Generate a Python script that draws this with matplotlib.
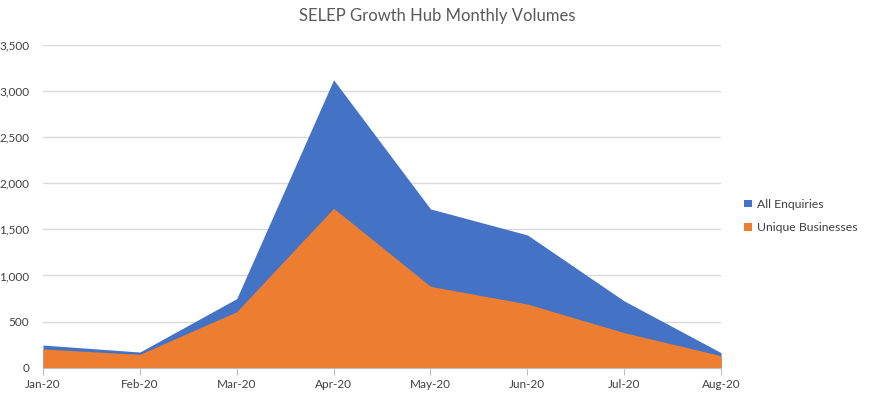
import numpy as np
import matplotlib.pyplot as plt

plt.rcParams['font.family'] = ['Lato', 'DejaVu Sans']

months = ['Jan-20', 'Feb-20', 'Mar-20', 'Apr-20', 'May-20', 'Jun-20', 'Jul-20', 'Aug-20']
all_enquiries = [246, 170, 749, 3122, 1722, 1440, 724, 163]
unique_businesses = [203, 145, 608, 1729, 883, 691, 380, 130]
yticks = [0, 500, 1000, 1500, 2000, 2500, 3000, 3500]

fig = plt.figure(figsize=(8.75, 3.99), dpi=100)
ax = fig.add_axes([0.0491, 0.0784, 0.775, 0.809])

x = np.arange(len(months))
ax.fill_between(x, 0, all_enquiries, color='#4472C4', linewidth=0, label='All Enquiries')
ax.fill_between(x, 0, unique_businesses, color='#ED7D31', linewidth=0, label='Unique Businesses')

ax.set_xlim(0, len(months) - 1)
ax.set_ylim(0, 3500)
ax.set_xticks(x)
ax.set_xticklabels(months)
ax.set_yticks(yticks)
ax.set_yticklabels(['{:,}'.format(v) for v in yticks])
ax.grid(axis='y', color='#d9d9d9', linewidth=1)
ax.set_axisbelow(True)

for s in ['top', 'right', 'left']:
    ax.spines[s].set_visible(False)
ax.spines['bottom'].set_color('#bfbfbf')
ax.tick_params(axis='y', length=0, labelsize=8.5, colors='#404040', pad=10)
ax.tick_params(axis='x', length=5, color='#bfbfbf', labelsize=8.5, colors='#404040', pad=3)

fig.suptitle('SELEP Growth Hub Monthly Volumes', x=0.5, y=0.98, fontsize=12, color='#595959')
ax.legend(loc='center left', bbox_to_anchor=(1.018, 0.47), frameon=False,
          fontsize=8.8, handlelength=0.6, handleheight=0.6, labelspacing=1.0,
          handletextpad=0.45, labelcolor='#404040')

plt.savefig('out.png', dpi=100)
